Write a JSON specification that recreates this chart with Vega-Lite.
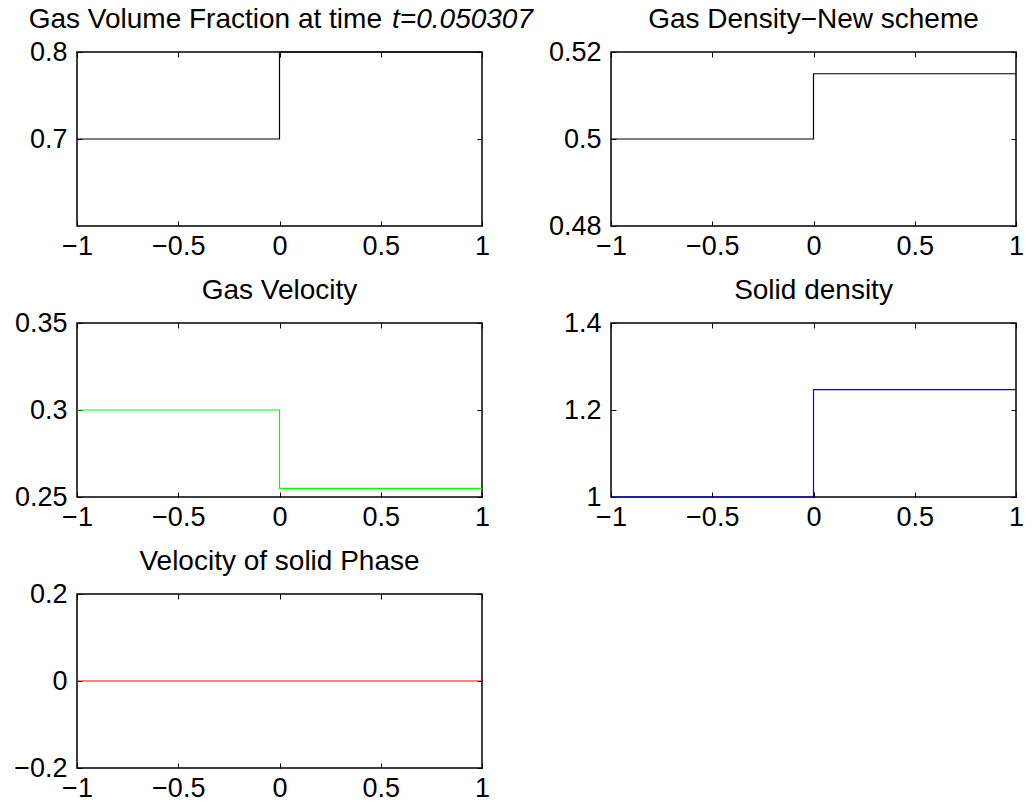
{
  "$schema": "https://vega.github.io/schema/vega-lite/v6.json",
  "background": "white",
  "padding": {"left": 12, "top": 5, "right": 0, "bottom": 0},
  "datasets": {
    "profiles": [
      {"panel": "alpha_g", "x": -1, "y": 0.7},
      {"panel": "alpha_g", "x": 0, "y": 0.8},
      {"panel": "alpha_g", "x": 1, "y": 0.8},
      {"panel": "rho_g", "x": -1, "y": 0.5},
      {"panel": "rho_g", "x": 0, "y": 0.515},
      {"panel": "rho_g", "x": 1, "y": 0.515},
      {"panel": "u_g", "x": -1, "y": 0.3},
      {"panel": "u_g", "x": 0, "y": 0.255},
      {"panel": "u_g", "x": 1, "y": 0.255},
      {"panel": "rho_s", "x": -1, "y": 1},
      {"panel": "rho_s", "x": 0, "y": 1.247},
      {"panel": "rho_s", "x": 1, "y": 1.247},
      {"panel": "u_s", "x": -1, "y": 0},
      {"panel": "u_s", "x": 1, "y": 0}
    ]
  },
  "columns": 2,
  "spacing": {"row": 97, "column": 129},
  "bounds": "flush",
  "concat": [
    {
      "width": 405, "height": 174,
      "data": {"name": "profiles"},
      "layer": [
        {
          "transform": [{"filter": "datum.panel === 'alpha_g'"}],
          "mark": {"type": "line", "interpolate": "step-after", "color": "#000000", "strokeWidth": 1.2},
          "encoding": {
            "x": {"field": "x", "type": "quantitative", "scale": {"domain": [-1, 1], "nice": false, "zero": false},
                  "axis": {"orient": "bottom", "values": [-1, -0.5, 0, 0.5, 1]}},
            "y": {"field": "y", "type": "quantitative", "scale": {"domain": [0.6, 0.8], "nice": false, "zero": false},
                  "axis": {"orient": "left", "values": [0.7, 0.8]}}
          }
        },
        {
          "transform": [{"filter": "datum.panel === 'alpha_g'"}],
          "mark": {"type": "line", "interpolate": "step-after", "opacity": 0},
          "encoding": {
            "x": {"field": "x", "type": "quantitative", "scale": {"domain": [-1, 1], "nice": false, "zero": false},
                  "axis": {"orient": "top", "values": [-1, -0.5, 0, 0.5, 1]}},
            "y": {"field": "y", "type": "quantitative", "scale": {"domain": [0.6, 0.8], "nice": false, "zero": false},
                  "axis": {"orient": "right", "values": [0.7, 0.8]}}
          }
        },
        {
          "data": {"values": [{}]},
          "mark": {"type": "text", "text": "Gas Volume Fraction at time", "align": "right", "baseline": "alphabetic",
                   "dy": -24, "font": "Liberation Sans", "fontSize": 28, "color": "#000000"},
          "encoding": {
            "x": {"datum": 0.506, "type": "quantitative", "axis": null},
            "y": {"datum": 0.8, "type": "quantitative", "axis": null}
          }
        },
        {
          "data": {"values": [{}]},
          "mark": {"type": "text", "text": "t=0.050307", "align": "left", "baseline": "alphabetic",
                   "dy": -24, "font": "Liberation Sans", "fontSize": 28, "fontStyle": "italic", "color": "#000000"},
          "encoding": {
            "x": {"datum": 0.556, "type": "quantitative", "axis": null},
            "y": {"datum": 0.8, "type": "quantitative", "axis": null}
          }
        }
      ],
      "resolve": {"axis": {"x": "independent", "y": "independent"}}
    },
    {
      "width": 405, "height": 174,
      "title": "Gas Density\u2212New scheme",
      "data": {"name": "profiles"},
      "transform": [{"filter": "datum.panel === 'rho_g'"}],
      "layer": [
        {
          "mark": {"type": "line", "interpolate": "step-after", "color": "#000000", "strokeWidth": 1.2},
          "encoding": {
            "x": {"field": "x", "type": "quantitative", "scale": {"domain": [-1, 1], "nice": false, "zero": false},
                  "axis": {"orient": "bottom", "values": [-1, -0.5, 0, 0.5, 1]}},
            "y": {"field": "y", "type": "quantitative", "scale": {"domain": [0.48, 0.52], "nice": false, "zero": false},
                  "axis": {"orient": "left", "values": [0.48, 0.5, 0.52]}}
          }
        },
        {
          "mark": {"type": "line", "interpolate": "step-after", "opacity": 0},
          "encoding": {
            "x": {"field": "x", "type": "quantitative", "scale": {"domain": [-1, 1], "nice": false, "zero": false},
                  "axis": {"orient": "top", "values": [-1, -0.5, 0, 0.5, 1]}},
            "y": {"field": "y", "type": "quantitative", "scale": {"domain": [0.48, 0.52], "nice": false, "zero": false},
                  "axis": {"orient": "right", "values": [0.48, 0.5, 0.52]}}
          }
        }
      ],
      "resolve": {"axis": {"x": "independent", "y": "independent"}}
    },
    {
      "width": 405, "height": 174,
      "title": "Gas Velocity",
      "data": {"name": "profiles"},
      "transform": [{"filter": "datum.panel === 'u_g'"}],
      "layer": [
        {
          "mark": {"type": "line", "interpolate": "step-after", "color": "#00ff00", "strokeWidth": 1.2},
          "encoding": {
            "x": {"field": "x", "type": "quantitative", "scale": {"domain": [-1, 1], "nice": false, "zero": false},
                  "axis": {"orient": "bottom", "values": [-1, -0.5, 0, 0.5, 1]}},
            "y": {"field": "y", "type": "quantitative", "scale": {"domain": [0.25, 0.35], "nice": false, "zero": false},
                  "axis": {"orient": "left", "values": [0.25, 0.3, 0.35]}}
          }
        },
        {
          "mark": {"type": "line", "interpolate": "step-after", "opacity": 0},
          "encoding": {
            "x": {"field": "x", "type": "quantitative", "scale": {"domain": [-1, 1], "nice": false, "zero": false},
                  "axis": {"orient": "top", "values": [-1, -0.5, 0, 0.5, 1]}},
            "y": {"field": "y", "type": "quantitative", "scale": {"domain": [0.25, 0.35], "nice": false, "zero": false},
                  "axis": {"orient": "right", "values": [0.25, 0.3, 0.35]}}
          }
        }
      ],
      "resolve": {"axis": {"x": "independent", "y": "independent"}}
    },
    {
      "width": 405, "height": 174,
      "title": "Solid density",
      "data": {"name": "profiles"},
      "transform": [{"filter": "datum.panel === 'rho_s'"}],
      "layer": [
        {
          "mark": {"type": "line", "interpolate": "step-after", "color": "#0000ff", "strokeWidth": 1.2},
          "encoding": {
            "x": {"field": "x", "type": "quantitative", "scale": {"domain": [-1, 1], "nice": false, "zero": false},
                  "axis": {"orient": "bottom", "values": [-1, -0.5, 0, 0.5, 1]}},
            "y": {"field": "y", "type": "quantitative", "scale": {"domain": [1, 1.4], "nice": false, "zero": false},
                  "axis": {"orient": "left", "values": [1, 1.2, 1.4]}}
          }
        },
        {
          "mark": {"type": "line", "interpolate": "step-after", "opacity": 0},
          "encoding": {
            "x": {"field": "x", "type": "quantitative", "scale": {"domain": [-1, 1], "nice": false, "zero": false},
                  "axis": {"orient": "top", "values": [-1, -0.5, 0, 0.5, 1]}},
            "y": {"field": "y", "type": "quantitative", "scale": {"domain": [1, 1.4], "nice": false, "zero": false},
                  "axis": {"orient": "right", "values": [1, 1.2, 1.4]}}
          }
        }
      ],
      "resolve": {"axis": {"x": "independent", "y": "independent"}}
    },
    {
      "width": 405, "height": 174,
      "title": "Velocity of solid Phase",
      "data": {"name": "profiles"},
      "transform": [{"filter": "datum.panel === 'u_s'"}],
      "layer": [
        {
          "mark": {"type": "line", "interpolate": "step-after", "color": "#ff0000", "strokeWidth": 1.2},
          "encoding": {
            "x": {"field": "x", "type": "quantitative", "scale": {"domain": [-1, 1], "nice": false, "zero": false},
                  "axis": {"orient": "bottom", "values": [-1, -0.5, 0, 0.5, 1]}},
            "y": {"field": "y", "type": "quantitative", "scale": {"domain": [-0.2, 0.2], "nice": false, "zero": false},
                  "axis": {"orient": "left", "values": [-0.2, 0, 0.2]}}
          }
        },
        {
          "mark": {"type": "line", "interpolate": "step-after", "opacity": 0},
          "encoding": {
            "x": {"field": "x", "type": "quantitative", "scale": {"domain": [-1, 1], "nice": false, "zero": false},
                  "axis": {"orient": "top", "values": [-1, -0.5, 0, 0.5, 1]}},
            "y": {"field": "y", "type": "quantitative", "scale": {"domain": [-0.2, 0.2], "nice": false, "zero": false},
                  "axis": {"orient": "right", "values": [-0.2, 0, 0.2]}}
          }
        }
      ],
      "resolve": {"axis": {"x": "independent", "y": "independent"}}
    }
  ],
  "config": {
    "font": "Liberation Sans",
    "view": {"stroke": "#000000", "strokeWidth": 1.5},
    "axis": {
      "grid": false, "domain": false, "ticks": true, "tickSize": -5, "tickColor": "#000000", "tickWidth": 1,
      "labelFont": "Liberation Sans", "labelFontSize": 27, "labelColor": "#000000",
      "labelFlush": false, "labelOverlap": false, "format": "~g", "title": null
    },
    "axisBottom": {"labelPadding": 12},
    "axisLeft": {"labelPadding": 15},
    "axisTop": {"labels": false, "minExtent": 0, "maxExtent": 0},
    "axisRight": {"labels": false, "minExtent": 0, "maxExtent": 0},
    "title": {"font": "Liberation Sans", "fontSize": 28, "fontWeight": "normal", "color": "#000000",
              "baseline": "alphabetic", "offset": 4, "anchor": "middle"}
  }
}
